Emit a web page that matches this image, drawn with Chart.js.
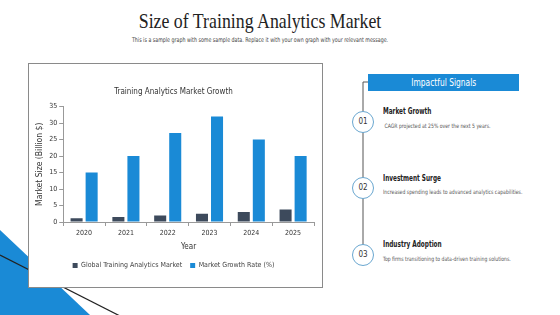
<!DOCTYPE html>
<html>
<head>
<meta charset="utf-8">
<script src="https://cdn.jsdelivr.net/npm/chart.js@4"></script>
<style>
  body { margin: 0; width: 560px; height: 315px; background: #fff; position: relative; overflow: hidden;
         font-family: 'Liberation Sans Narrow', 'DejaVu Sans Condensed', sans-serif; }
  #decor { position: absolute; left: 0; top: 0; }
  h1 { position: absolute; top: 8px; left: 0; width: 520px; margin: 0; text-align: center;
       font: 22px 'Liberation Serif', serif; color: #222; transform: scaleX(0.81); transform-origin: 260px 0; }
  .sub { position: absolute; top: 36px; left: 0; width: 520px; text-align: center; font-size: 6.5px; color: #444;
         transform: scaleX(0.81); transform-origin: 260px 0; }
  #box { position: absolute; left: 28px; top: 63px; width: 293px; height: 223px; border: 1px solid #8a8a8a; background: #fff; }
  .head { position: absolute; left: 368px; top: 74px; width: 151px; height: 17px; background: #1a8ad6;
          color: #fff; font-size: 11px; line-height: 17px; text-align: center; }
  .head span { display: inline-block; transform: scaleX(0.76); }
  .item h3, .item p { position: absolute; margin: 0; left: 383px; transform-origin: 0 0; white-space: nowrap; }
  .item h3 { font-size: 8px; font-weight: bold; color: #222; transform: scaleX(0.8); }
  .item p { font-size: 6px; color: #555; transform: scaleX(0.85); }
  .num { position: absolute; left: 352px; width: 20px; height: 20px; border: 1px solid #6aa7d0; border-radius: 50%;
         background: #fff; text-align: center; line-height: 20px; font-size: 8px; color: #333; }
</style>
</head>
<body>
<svg id="decor" width="560" height="315">
  <polygon points="0,230 90,315 0,315" fill="#1a8ad6"/>
  <line x1="0" y1="255" x2="120" y2="316" stroke="#222" stroke-width="1.2"/>
  <polyline points="368,82 363,82 363,256" fill="none" stroke="#555" stroke-width="1"/>
</svg>
<h1>Size of Training Analytics Market</h1>
<div class="sub">This is a sample graph with some sample data. Replace it with your own graph with your relevant message.</div>
<div id="box"><canvas id="chart" width="293" height="223"></canvas></div>
<div class="head"><span>Impactful Signals</span></div>
<div class="num" style="top:111px">01</div>
<div class="num" style="top:177px">02</div>
<div class="num" style="top:244px">03</div>
<div class="item">
  <h3 style="top:107px">Market Growth</h3>
  <p style="top:122px">&nbsp;CAGR projected at 25% over the next 5 years.</p>
  <h3 style="top:174px">Investment Surge</h3>
  <p style="top:188px">Increased spending leads to advanced analytics capabilities.</p>
  <h3 style="top:240px">Industry Adoption</h3>
  <p style="top:255px">Top firms transitioning to data-driven training solutions.</p>
</div>
<script>
const years = ['2020', '2021', '2022', '2023', '2024', '2025'];
const marketSize = [1.1, 1.5, 2.0, 2.5, 3.0, 3.8];
const growthRate = [15, 20, 27, 32, 25, 20];
const yTicks = [0, 5, 10, 15, 20, 25, 30, 35];

const font = "'Liberation Sans Narrow', 'DejaVu Sans Condensed', sans-serif";

new Chart(document.getElementById('chart'), {
  type: 'bar',
  data: {
    labels: years,
    datasets: [
      { label: 'Global Training Analytics Market', data: marketSize, backgroundColor: '#3d4a5c' },
      { label: 'Market Growth Rate (%)', data: growthRate, backgroundColor: '#1a8ad6' }
    ]
  },
  options: {
    responsive: false,
    animation: false,
    categoryPercentage: 0.72,
    barPercentage: 0.8,
    layout: { padding: { left: 4, right: 8, top: 10, bottom: 8 } },
    plugins: {
      title: { display: true, text: 'Training Analytics Market Growth', color: '#333',
               font: { family: font, size: 8, weight: 'normal' }, padding: { top: 13, bottom: 10 } },
      legend: { position: 'bottom',
                labels: { color: '#444', font: { family: font, size: 7 }, boxWidth: 5, boxHeight: 5, padding: 8 } },
      tooltip: { enabled: false }
    },
    scales: {
      x: {
        grid: { display: true, drawOnChartArea: false, color: '#999', tickLength: 4 },
        border: { color: '#999' },
        ticks: { color: '#333', font: { family: font, size: 7 }, padding: 3 },
        title: { display: true, text: 'Year', color: '#333', font: { family: font, size: 8 }, padding: { top: 2, bottom: 2 } }
      },
      y: {
        min: 0, max: 35,
        afterBuildTicks: axis => { axis.ticks = yTicks.map(v => ({ value: v })); },
        grid: { display: true, drawOnChartArea: false, color: '#999', tickLength: 4 },
        border: { color: '#999' },
        ticks: { color: '#333', font: { family: font, size: 7 }, padding: 2 },
        title: { display: true, text: 'Market Size (Billion $)', color: '#333', font: { family: font, size: 8.5 }, padding: 2 }
      }
    }
  }
});
</script>
</body>
</html>
